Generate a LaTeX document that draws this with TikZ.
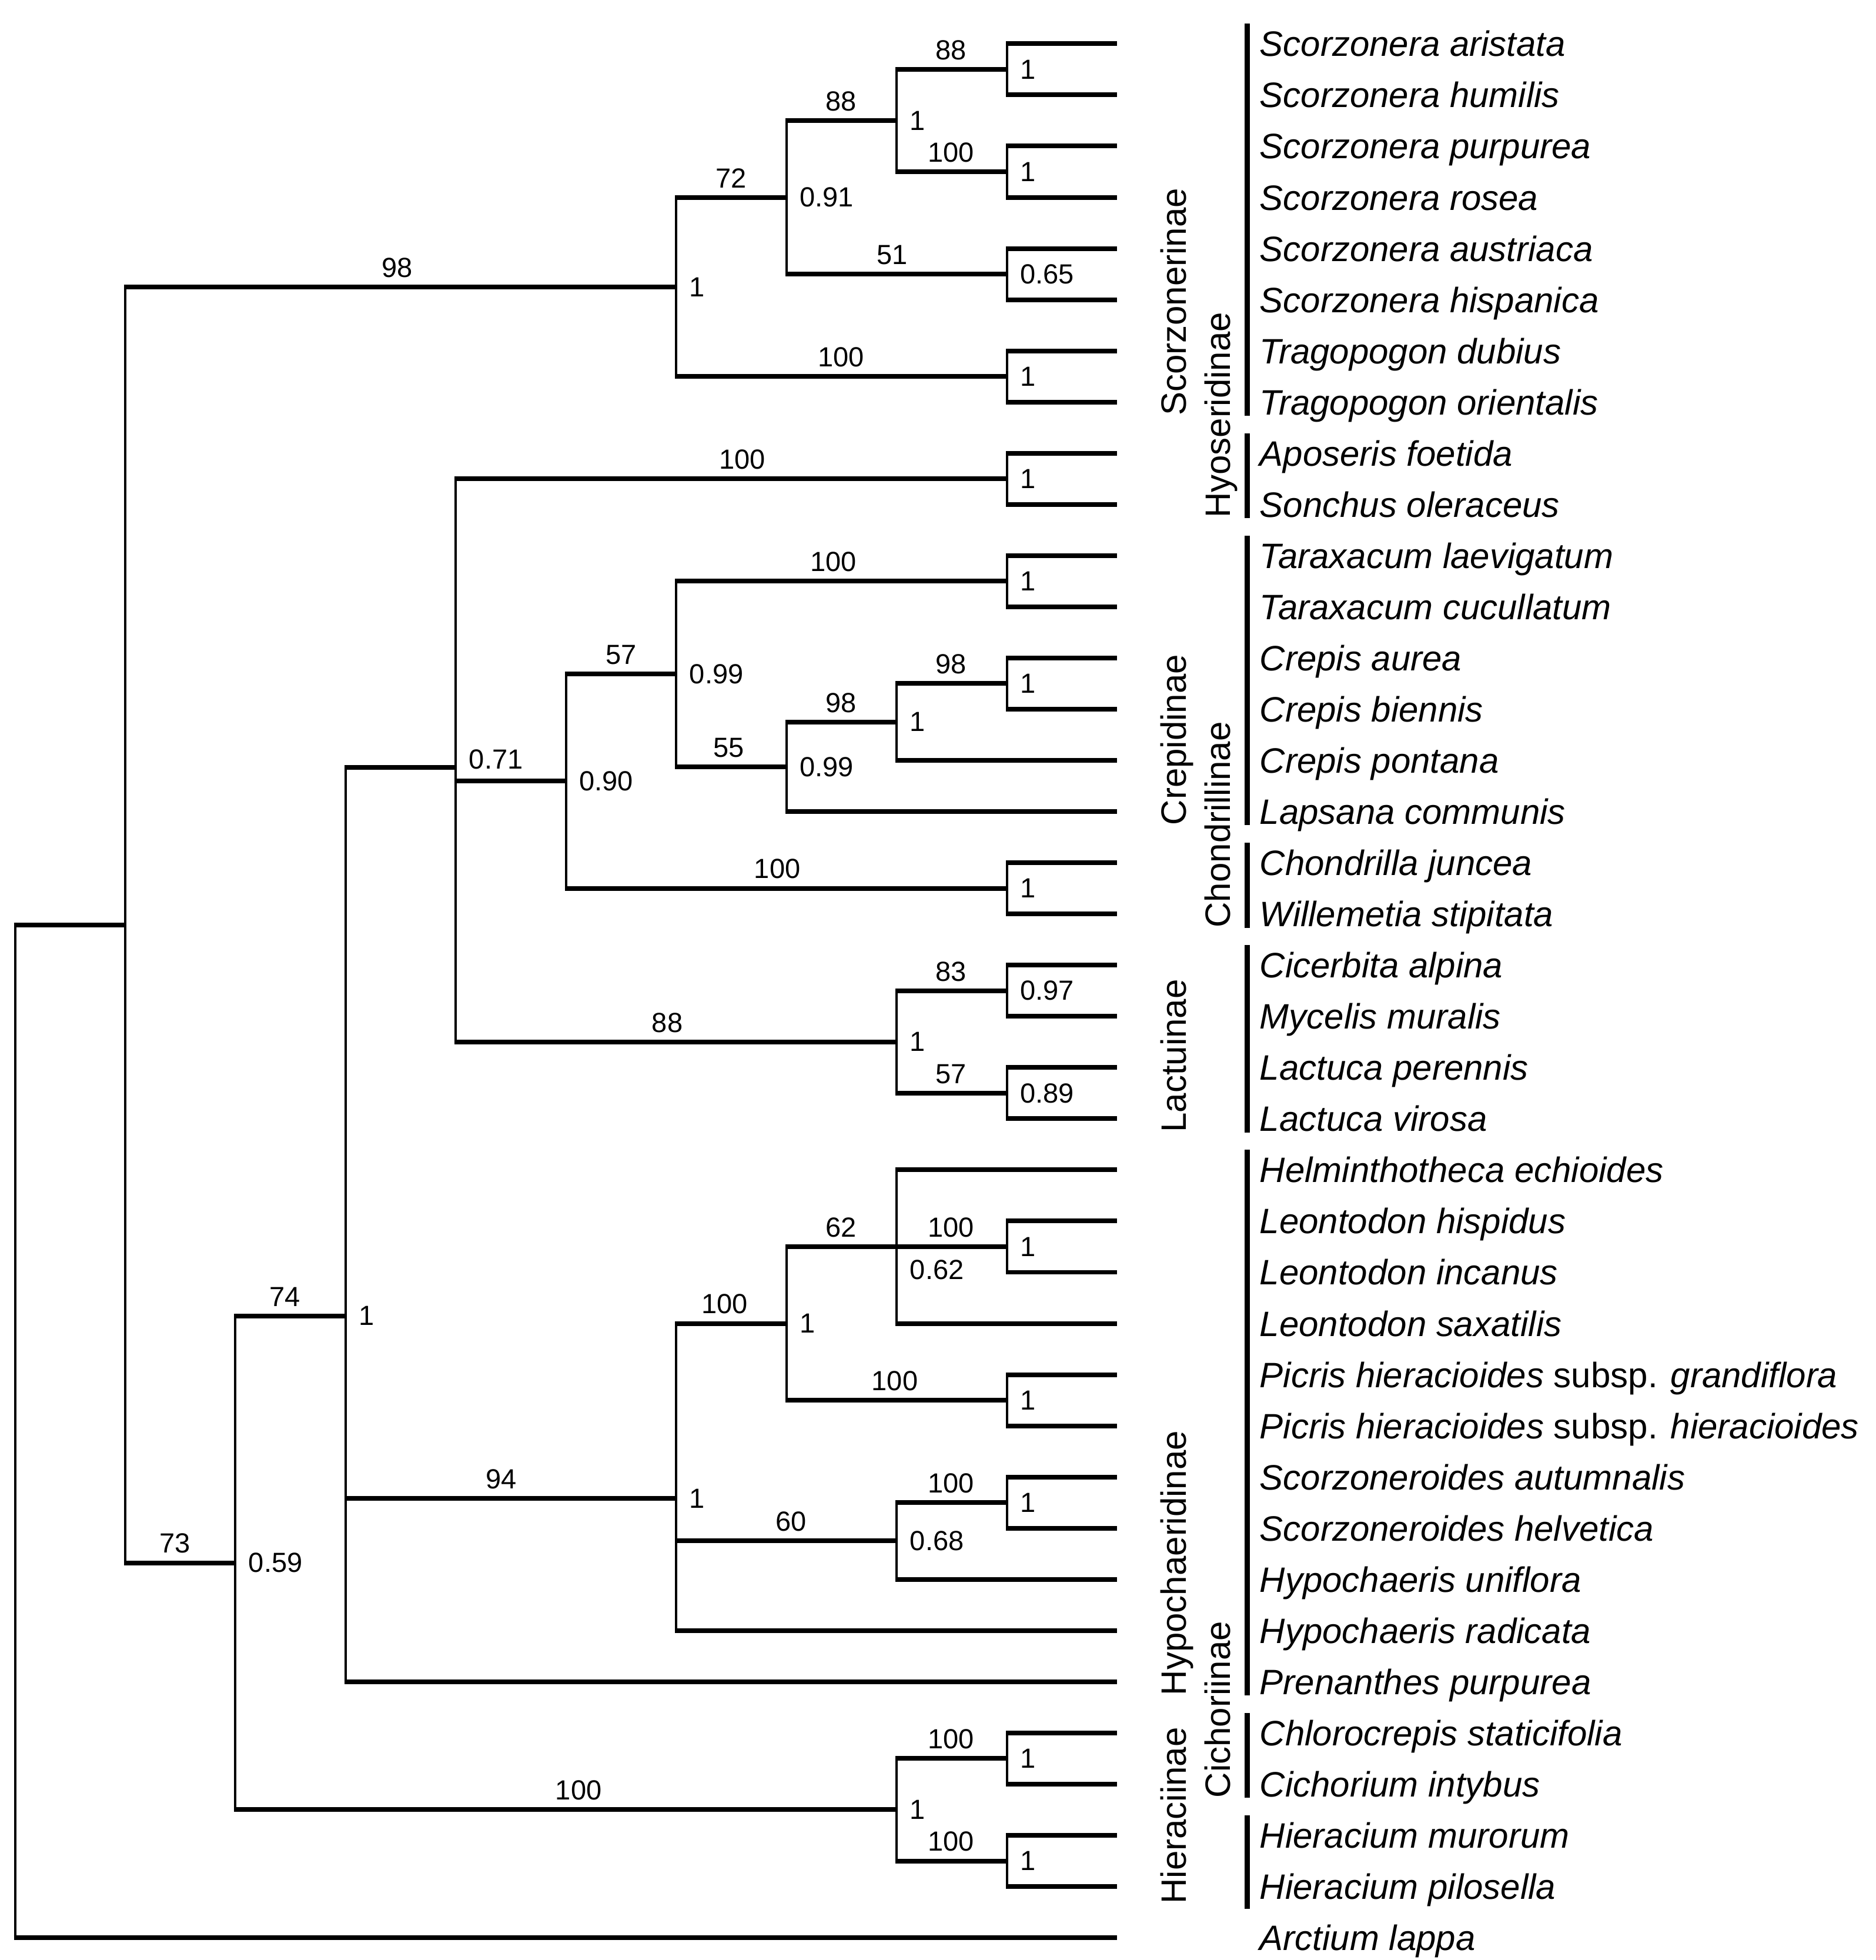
\documentclass[tikz,border=0pt]{standalone}
\usepackage{fontspec}
\setmainfont{Liberation Sans}
\usetikzlibrary{calc}
\newcommand{\Y}[1]{(35+40.95*(#1))}
\newcommand{\vbr}[3]{\draw[vl] ($(#1 |- #2)+(0,4pt)$) -- ($(#1 |- #3)+(0,-4pt)$);}
\newcommand{\hbr}[2]{\draw[hl] ($(#1 |- #2)+(-2pt,0)$) -- (#2);}
\newcommand{\cltwo}[3]{\vbr{#1}{#2}{#3}\hbr{#1}{#2}\hbr{#1}{#3}}
\newcommand{\clthree}[4]{\vbr{#1}{#2}{#4}\hbr{#1}{#2}\hbr{#1}{#3}\hbr{#1}{#4}}
\tikzset{
  hl/.style={line width=8pt},
  vl/.style={line width=4pt},
  cbar/.style={line width=9pt},
  taxon/.style={anchor=base west, inner sep=0pt, yshift=-21.5pt, font=\fontsize{60}{72}\selectfont\itshape},
  clab/.style={anchor=base west, inner sep=0pt, rotate=90, font=\fontsize{60}{72}\selectfont},
  bs/.style={anchor=south, inner sep=0pt, yshift=16pt, font=\fontsize{47}{56}\selectfont},
  pp/.style={anchor=west, inner sep=0pt, xshift=22.3pt, font=\fontsize{47}{56}\selectfont},
}
\begin{document}
\begin{tikzpicture}[x=2.126pt, y=-2.126pt]
\useasboundingbox (0,0) rectangle (1501,1568);
% tree nodes
\coordinate (R) at (12,{\Y{27}});
\coordinate (A) at (100.2,{\Y{17.21267}});
\coordinate (Sc) at (541.2,{\Y{4.75}});
\coordinate (s1) at (629.4,{\Y{3}});
\coordinate (s2) at (717.6,{\Y{1.5}});
\coordinate (s3) at (805.8,{\Y{0.5}});
\coordinate (s4) at (805.8,{\Y{2.5}});
\coordinate (s5) at (805.8,{\Y{4.5}});
\coordinate (s6) at (805.8,{\Y{6.5}});
\coordinate (B) at (188.4,{\Y{29.67535}});
\coordinate (C) at (276.6,{\Y{24.85069}});
\coordinate (D) at (364.8,{\Y{14.13542}});
\coordinate (h1) at (805.8,{\Y{8.5}});
\coordinate (E) at (453,{\Y{14.40625}});
\coordinate (F) at (541.2,{\Y{12.3125}});
\coordinate (c1) at (805.8,{\Y{10.5}});
\coordinate (G) at (629.4,{\Y{14.125}});
\coordinate (H) at (717.6,{\Y{13.25}});
\coordinate (c2) at (805.8,{\Y{12.5}});
\coordinate (ch) at (805.8,{\Y{16.5}});
\coordinate (I) at (717.6,{\Y{19.5}});
\coordinate (l1) at (805.8,{\Y{18.5}});
\coordinate (l2) at (805.8,{\Y{20.5}});
\coordinate (J) at (541.2,{\Y{28.41667}});
\coordinate (K) at (629.4,{\Y{25}});
\coordinate (Lh) at (717.6,{\Y{23.5}});
\coordinate (q1) at (805.8,{\Y{23.5}});
\coordinate (p1) at (805.8,{\Y{26.5}});
\coordinate (M) at (717.6,{\Y{29.25}});
\coordinate (q2) at (805.8,{\Y{28.5}});
\coordinate (N) at (717.6,{\Y{34.5}});
\coordinate (n1) at (805.8,{\Y{33.5}});
\coordinate (n2) at (805.8,{\Y{35.5}});
\foreach \i in {0,...,37} {\coordinate (t\i) at (894,{\Y{\i}});}
% branches
\cltwo{R}{A}{t37}
\cltwo{A}{Sc}{B}
\cltwo{Sc}{s1}{s6}
\cltwo{s1}{s2}{s5}
\cltwo{s2}{s3}{s4}
\cltwo{s3}{t0}{t1}
\cltwo{s4}{t2}{t3}
\cltwo{s5}{t4}{t5}
\cltwo{s6}{t6}{t7}
\cltwo{B}{C}{N}
\clthree{C}{D}{J}{t32}
\clthree{D}{h1}{E}{I}
\cltwo{h1}{t8}{t9}
\cltwo{E}{F}{ch}
\cltwo{F}{c1}{G}
\cltwo{c1}{t10}{t11}
\cltwo{G}{H}{t15}
\cltwo{H}{c2}{t14}
\cltwo{c2}{t12}{t13}
\cltwo{ch}{t16}{t17}
\cltwo{I}{l1}{l2}
\cltwo{l1}{t18}{t19}
\cltwo{l2}{t20}{t21}
\clthree{J}{K}{M}{t31}
\cltwo{K}{Lh}{p1}
\clthree{Lh}{t22}{q1}{t25}
\cltwo{q1}{t23}{t24}
\cltwo{p1}{t26}{t27}
\cltwo{M}{q2}{t30}
\cltwo{q2}{t28}{t29}
\cltwo{N}{n1}{n2}
\cltwo{n1}{t33}{t34}
\cltwo{n2}{t35}{t36}
% bootstrap values
\node[bs] (b1) at (318,{\Y{4.75}}) {98};
\node[bs] (b2) at (140,{\Y{29.67535}}) {73};
\node[bs] (b3) at (585,{\Y{3}}) {72};
\node[bs] (b4) at (673,{\Y{6.5}}) {100};
\node[bs] (b5) at (673,{\Y{1.5}}) {88};
\node[bs] (b6) at (714,{\Y{4.5}}) {51};
\node[bs] (b7) at (761,{\Y{0.5}}) {88};
\node[bs] (b8) at (761,{\Y{2.5}}) {100};
\node[bs] (b9) at (228,{\Y{24.85069}}) {74};
\node[bs] (b10) at (463,{\Y{34.5}}) {100};
\node[bs] (b11) at (594,{\Y{8.5}}) {100};
\node[bs] (b12) at (534,{\Y{19.5}}) {88};
\node[bs] (b13) at (497,{\Y{12.3125}}) {57};
\node[bs] (b14) at (622,{\Y{16.5}}) {100};
\node[bs] (b15) at (667,{\Y{10.5}}) {100};
\node[bs] (b16) at (583,{\Y{14.125}}) {55};
\node[bs] (b17) at (673,{\Y{13.25}}) {98};
\node[bs] (b18) at (761,{\Y{12.5}}) {98};
\node[bs] (b19) at (761,{\Y{18.5}}) {83};
\node[bs] (b20) at (761,{\Y{20.5}}) {57};
\node[bs] (b21) at (401,{\Y{28.41667}}) {94};
\node[bs] (b22) at (580,{\Y{25}}) {100};
\node[bs] (b23) at (633,{\Y{29.25}}) {60};
\node[bs] (b24) at (673,{\Y{23.5}}) {62};
\node[bs] (b25) at (716,{\Y{26.5}}) {100};
\node[bs] (b26) at (761,{\Y{23.5}}) {100};
\node[bs] (b27) at (761,{\Y{28.5}}) {100};
\node[bs] (b28) at (761,{\Y{33.5}}) {100};
\node[bs] (b29) at (761,{\Y{35.5}}) {100};
% posterior probabilities
\node[pp] (p-Sc) at (Sc) {1};
\node[pp] (p-s1) at (s1) {0.91};
\node[pp] (p-s2) at (s2) {1};
\node[pp] (p-s3) at (s3) {1};
\node[pp] (p-s4) at (s4) {1};
\node[pp] (p-s5) at (s5) {0.65};
\node[pp] (p-s6) at (s6) {1};
\node[pp] (p-h1) at (h1) {1};
\node[pp] (p-D) at (364.8,607.5) {0.71};
\node[pp] (p-E) at (E) {0.90};
\node[pp] (p-F) at (F) {0.99};
\node[pp] (p-c1) at (c1) {1};
\node[pp] (p-G) at (G) {0.99};
\node[pp] (p-H) at (H) {1};
\node[pp] (p-c2) at (c2) {1};
\node[pp] (p-ch) at (ch) {1};
\node[pp] (p-I) at (I) {1};
\node[pp] (p-l1) at (l1) {0.97};
\node[pp] (p-l2) at (l2) {0.89};
\node[pp] (p-C) at (C) {1};
\node[pp] (p-B) at (B) {0.59};
\node[pp] (p-J) at (J) {1};
\node[pp] (p-K) at (K) {1};
\node[pp] (p-Lh) at (717.6,1016) {0.62};
\node[pp] (p-q1) at (q1) {1};
\node[pp] (p-p1) at (p1) {1};
\node[pp] (p-M) at (M) {0.68};
\node[pp] (p-q2) at (q2) {1};
\node[pp] (p-N) at (N) {1};
\node[pp] (p-n1) at (n1) {1};
\node[pp] (p-n2) at (n2) {1};
% taxa
\foreach \i/\t in {0/Scorzonera aristata, 1/Scorzonera humilis, 2/Scorzonera purpurea, 3/Scorzonera rosea, 4/Scorzonera austriaca, 5/Scorzonera hispanica, 6/Tragopogon dubius, 7/Tragopogon orientalis, 8/Aposeris foetida, 9/Sonchus oleraceus, 10/Taraxacum laevigatum, 11/Taraxacum cucullatum, 12/Crepis aurea, 13/Crepis biennis, 14/Crepis pontana, 15/Lapsana communis, 16/Chondrilla juncea, 17/Willemetia stipitata, 18/Cicerbita alpina, 19/Mycelis muralis, 20/Lactuca perennis, 21/Lactuca virosa, 22/Helminthotheca echioides, 23/Leontodon hispidus, 24/Leontodon incanus, 25/Leontodon saxatilis, 26/{Picris hieracioides \textup{subsp.} grandiflora}, 27/{Picris hieracioides \textup{subsp.} hieracioides}, 28/Scorzoneroides autumnalis, 29/Scorzoneroides helvetica, 30/Hypochaeris uniflora, 31/Hypochaeris radicata, 32/Prenanthes purpurea, 33/Chlorocrepis staticifolia, 34/Cichorium intybus, 35/Hieracium murorum, 36/Hieracium pilosella, 37/Arctium lappa}
  {\node[taxon] (tx\i) at (1008,{\Y{\i}}) {\t};}
% clade bars
\draw[cbar] (998,{\Y{0}-16}) coordinate (k1a) -- (998,{\Y{7}+11}) coordinate (k1b);
\draw[cbar] (998,{\Y{8}-16}) coordinate (k2a) -- (998,{\Y{9}+11}) coordinate (k2b);
\draw[cbar] (998,{\Y{10}-16}) coordinate (k3a) -- (998,{\Y{15}+11}) coordinate (k3b);
\draw[cbar] (998,{\Y{16}-16}) coordinate (k4a) -- (998,{\Y{17}+11}) coordinate (k4b);
\draw[cbar] (998,{\Y{18}-16}) coordinate (k5a) -- (998,{\Y{21}+11}) coordinate (k5b);
\draw[cbar] (998,{\Y{22}-16}) coordinate (k6a) -- (998,{\Y{32}+11}) coordinate (k6b);
\draw[cbar] (998,{\Y{33}-16}) coordinate (k7a) -- (998,{\Y{34}+11}) coordinate (k7b);
\draw[cbar] (998,{\Y{35}-16}) coordinate (k8a) -- (998,{\Y{36}+18}) coordinate (k8b);
% clade labels
\node[clab] (cl1) at (949,{\Y{7}+11}) {Scorzonerinae};
\node[clab] (cl2) at (984.5,{\Y{9}+11}) {Hyoseridinae};
\node[clab] (cl3) at (949,{\Y{15}+11}) {Crepidinae};
\node[clab] (cl4) at (984.5,{\Y{17}+11}) {Chondrillinae};
\node[clab] (cl5) at (949,{\Y{21}+11}) {Lactuinae};
\node[clab] (cl6) at (949,{\Y{32}+11}) {Hypochaeridinae};
\node[clab] (cl7) at (984.5,{\Y{34}+11}) {Cichoriinae};
\node[clab] (cl8) at (949,{\Y{36}+14}) {Hieraciinae};
\end{tikzpicture}
\end{document}
